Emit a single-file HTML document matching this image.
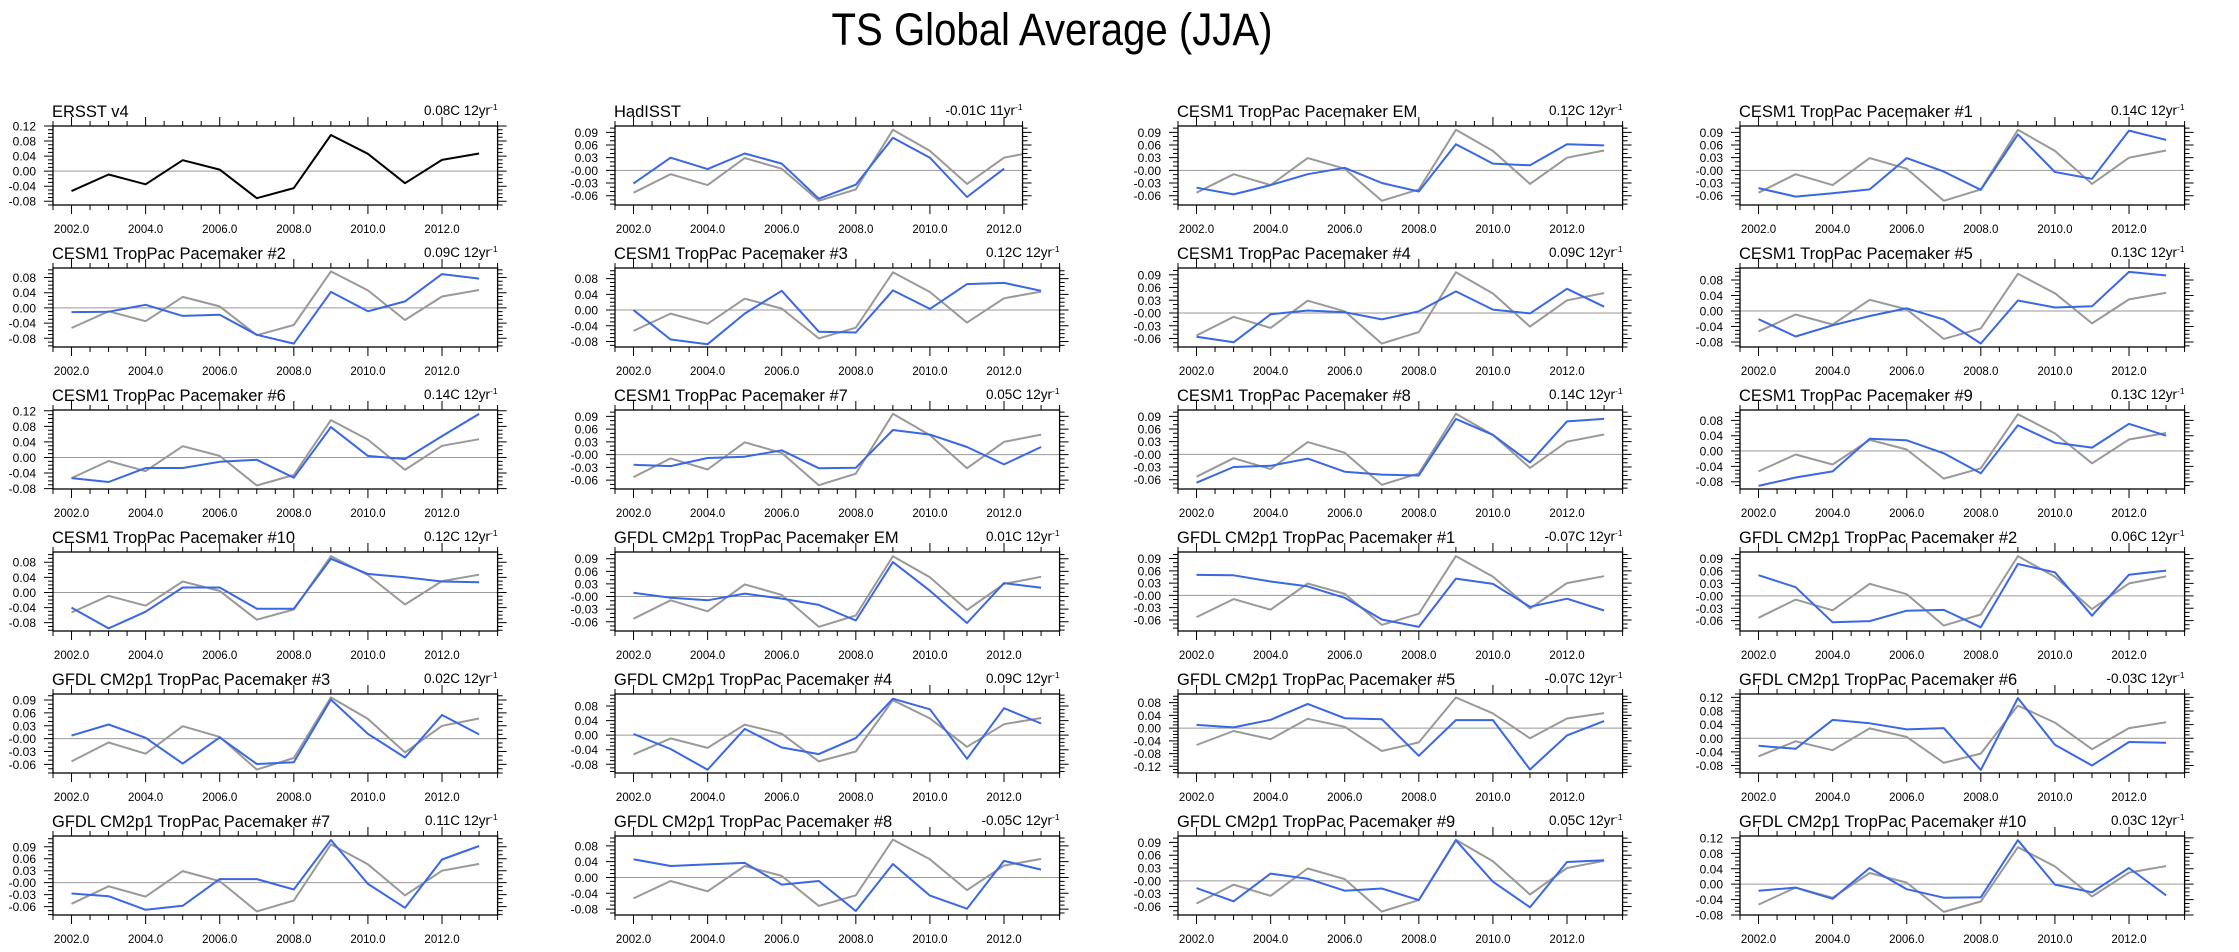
<!DOCTYPE html>
<html><head><meta charset="utf-8"><title>TS Global Average (JJA)</title>
<style>
html,body{margin:0;padding:0;background:#fff;}
svg{display:block;font-family:"Liberation Sans",Arial,sans-serif;}
</style></head>
<body>
<svg id="chart" width="2239" height="952" viewBox="0 0 2239 952" xmlns="http://www.w3.org/2000/svg">
<rect x="0" y="0" width="2239" height="952" fill="#fff"/>
<text x="1052" y="45" text-anchor="middle" font-size="45" textLength="441" lengthAdjust="spacingAndGlyphs" fill="#000">TS Global Average (JJA)</text>
</svg>
<script>
const years = [2002,2003,2004,2005,2006,2007,2008,2009,2010,2011,2012,2013];
const ersst = [-0.053,-0.009,-0.035,0.029,0.004,-0.072,-0.045,0.096,0.046,-0.032,0.030,0.047];
const titles = ["ERSST v4","HadISST","CESM1 TropPac Pacemaker EM","CESM1 TropPac Pacemaker #1",
"CESM1 TropPac Pacemaker #2","CESM1 TropPac Pacemaker #3","CESM1 TropPac Pacemaker #4","CESM1 TropPac Pacemaker #5",
"CESM1 TropPac Pacemaker #6","CESM1 TropPac Pacemaker #7","CESM1 TropPac Pacemaker #8","CESM1 TropPac Pacemaker #9",
"CESM1 TropPac Pacemaker #10","GFDL CM2p1 TropPac Pacemaker EM","GFDL CM2p1 TropPac Pacemaker #1","GFDL CM2p1 TropPac Pacemaker #2",
"GFDL CM2p1 TropPac Pacemaker #3","GFDL CM2p1 TropPac Pacemaker #4","GFDL CM2p1 TropPac Pacemaker #5","GFDL CM2p1 TropPac Pacemaker #6",
"GFDL CM2p1 TropPac Pacemaker #7","GFDL CM2p1 TropPac Pacemaker #8","GFDL CM2p1 TropPac Pacemaker #9","GFDL CM2p1 TropPac Pacemaker #10"];
const trends = ["0.08C","-0.01C","0.12C","0.14C","0.09C","0.12C","0.09C","0.13C","0.14C","0.05C","0.14C","0.13C",
"0.12C","0.01C","-0.07C","0.06C","0.02C","0.09C","-0.07C","-0.03C","0.11C","-0.05C","0.05C","0.03C"];
const trendYears = [12,11,12,12,12,12,12,12,12,12,12,12,12,12,12,12,12,12,12,12,12,12,12,12];
const yMins = [-0.09,-0.082,-0.082,-0.082,-0.103,-0.094,-0.08,-0.093,-0.081,-0.081,-0.082,-0.099,
-0.102,-0.082,-0.087,-0.085,-0.08,-0.104,-0.141,-0.102,-0.081,-0.095,-0.08,-0.08];
const yMaxs = [0.12,0.105,0.105,0.105,0.105,0.107,0.106,0.111,0.122,0.105,0.105,0.107,
0.107,0.106,0.106,0.106,0.104,0.113,0.107,0.13,0.117,0.105,0.105,0.125];
const yTickSteps = [0.04,0.03,0.03,0.03,0.04,0.04,0.03,0.04,0.04,0.03,0.03,0.04,
0.04,0.03,0.03,0.03,0.03,0.04,0.04,0.04,0.03,0.04,0.03,0.04];
const seriesHad = [-0.031,0.030,0.003,0.040,0.016,-0.067,-0.034,0.077,0.030,-0.063,0.004];
const seriesCesmEM = [-0.041,-0.057,-0.035,-0.009,0.006,-0.030,-0.050,0.062,0.016,0.012,0.062,0.059];
const seriesCesm1 = [-0.042,-0.062,-0.054,-0.045,0.029,-0.003,-0.046,0.085,-0.004,-0.020,0.094,0.072];
const seriesCesm2 = [-0.011,-0.010,0.008,-0.021,-0.018,-0.071,-0.094,0.042,-0.009,0.017,0.089,0.077];
const seriesCesm3 = [0.000,-0.075,-0.087,-0.009,0.049,-0.055,-0.057,0.050,0.003,0.066,0.069,0.049];
const seriesCesm4 = [-0.056,-0.069,-0.003,0.006,0.002,-0.015,0.004,0.051,0.008,-0.001,0.057,0.015];
const seriesCesm5 = [-0.021,-0.066,-0.037,-0.013,0.007,-0.022,-0.084,0.027,0.009,0.012,0.101,0.092];
const seriesCesm6 = [-0.053,-0.063,-0.027,-0.027,-0.011,-0.006,-0.052,0.078,0.004,-0.004,0.055,0.112];
const seriesCesm7 = [-0.024,-0.027,-0.008,-0.005,0.010,-0.032,-0.031,0.058,0.047,0.018,-0.023,0.018];
const seriesCesm8 = [-0.067,-0.030,-0.027,-0.010,-0.041,-0.048,-0.050,0.084,0.046,-0.019,0.078,0.084];
const seriesCesm9 = [-0.091,-0.069,-0.053,0.032,0.028,-0.006,-0.058,0.067,0.022,0.009,0.071,0.040];
const seriesCesm10 = [-0.040,-0.095,-0.051,0.013,0.013,-0.043,-0.043,0.089,0.049,0.040,0.029,0.027];
const seriesGfdlEM = [0.009,-0.003,-0.009,0.007,-0.005,-0.020,-0.057,0.082,0.014,-0.063,0.032,0.021];
const seriesGfdl1 = [0.050,0.049,0.034,0.022,-0.006,-0.059,-0.077,0.041,0.028,-0.028,-0.008,-0.037];
const seriesGfdl2 = [0.050,0.021,-0.064,-0.061,-0.036,-0.034,-0.076,0.077,0.057,-0.048,0.051,0.061];
const seriesGfdl3 = [0.007,0.033,0.002,-0.058,0.003,-0.059,-0.055,0.091,0.011,-0.044,0.055,0.010];
const seriesGfdl4 = [0.003,-0.038,-0.095,0.017,-0.034,-0.052,-0.008,0.100,0.071,-0.065,0.074,0.032];
const seriesGfdl5 = [0.010,0.002,0.026,0.076,0.031,0.028,-0.087,0.025,0.025,-0.130,-0.023,0.022];
const seriesGfdl6 = [-0.022,-0.031,0.054,0.044,0.026,0.030,-0.093,0.118,-0.019,-0.080,-0.011,-0.013];
const seriesGfdl7 = [-0.027,-0.034,-0.068,-0.058,0.009,0.009,-0.017,0.107,-0.003,-0.063,0.058,0.092];
const seriesGfdl8 = [0.046,0.029,0.033,0.037,-0.018,-0.009,-0.085,0.034,-0.046,-0.079,0.042,0.020];
const seriesGfdl9 = [-0.017,-0.048,0.017,0.005,-0.023,-0.018,-0.045,0.095,-0.002,-0.062,0.044,0.048];
const seriesGfdl10 = [-0.017,-0.009,-0.038,0.042,-0.013,-0.035,-0.034,0.114,-0.001,-0.021,0.042,-0.029];
const blueSeries = [null,seriesHad,seriesCesmEM,seriesCesm1,seriesCesm2,seriesCesm3,seriesCesm4,seriesCesm5,
seriesCesm6,seriesCesm7,seriesCesm8,seriesCesm9,seriesCesm10,seriesGfdlEM,seriesGfdl1,seriesGfdl2,
seriesGfdl3,seriesGfdl4,seriesGfdl5,seriesGfdl6,seriesGfdl7,seriesGfdl8,seriesGfdl9,seriesGfdl10];
const xTickLabels = ["2002.0","2004.0","2006.0","2008.0","2010.0","2012.0"];

const NS = "http://www.w3.org/2000/svg";
const svg = document.getElementById("chart");
const colLeft = [53, 615, 1178, 1740];
const rowTop = [126, 268, 410, 552, 694, 836];
const PPY = 37.05, BOX_H = 79;

function mk(tag, attrs, parent) {
  const e = document.createElementNS(NS, tag);
  for (const k in attrs) e.setAttribute(k, attrs[k]);
  parent.appendChild(e);
  return e;
}

titles.forEach((title, i) => {
  const col = i % 4, row = Math.floor(i / 4);
  const nYears = trendYears[i];
  const x0 = colLeft[col], y0 = rowTop[row];
  const xMin = 2001.5, xMax = 2001.5 + nYears;
  const W = nYears * PPY, H = BOX_H;
  const ymin = yMins[i], ymax = yMaxs[i];
  const sx = v => x0 + (v - xMin) / (xMax - xMin) * W;
  const sy = v => y0 + (ymax - v) / (ymax - ymin) * H;

  const g = mk("g", {}, svg);
  
  

  const t = mk("text", {x: x0 - 1, y: y0 - 9, "font-size": 16.5, fill: "#000"}, g);
  
  
  t.textContent = title;

  const tr = mk("text", {x: x0 + W, y: y0 - 11, "font-size": 13.5, "text-anchor": "end", fill: "#000"}, g);
  
  
  tr.textContent = trends[i] + " " + nYears + "yr";
  const sup = mk("tspan", {"font-size": 8.5, dy: -5}, tr);
  sup.textContent = "-1";

  let ticks = "";
  for (let v = 2001.5; v <= xMax + 1e-6; v += 0.5) {
    const x = sx(v);
    const major = Math.abs(v - Math.round(v)) < 1e-6 && Math.round(v) % 2 === 0 && v >= 2002 && v <= 2012;
    const L = major ? 9 : 5;
    ticks += `M${x},${y0 + H}v${L}M${x},${y0}v${-L}`;
  }
  for (let k = Math.ceil(ymin / 0.01 - 1e-6); k * 0.01 <= ymax + 1e-9; k++) {
    const v = k * 0.01, y = sy(v);
    const st = Math.round(yTickSteps[i] * 100);
    const major = k % st === 0;
    const L = major ? 9 : 5;
    ticks += `M${x0},${y}h${-L}M${x0 + W},${y}h${L}`;
  }
  const tp = mk("path", {d: ticks, stroke: "#000", "stroke-width": 1, fill: "none"}, g);
  
  

  xTickLabels.forEach(lab => {
    const v = parseFloat(lab);
    if (v > xMax) return;
    const tl = mk("text", {x: sx(v), y: y0 + H + 28, "font-size": 11.5, "text-anchor": "middle", fill: "#000"}, g);
    
    
    tl.textContent = lab;
  });
  const step = yTickSteps[i];
  for (let k = Math.ceil(ymin / step - 1e-6); k * step <= ymax + 1e-9; k++) {
    const v = k * step;
    let lab = v.toFixed(2);
    if (k === 0) lab = (step === 0.03) ? "-0.00" : "0.00";
    const yl = mk("text", {x: x0 - 17, y: sy(v) + 4.5, "font-size": 12, "text-anchor": "end", fill: "#000"}, g);
    
    
    yl.textContent = lab;
  }

  const zl = mk("line", {x1: x0, x2: x0 + W, y1: sy(0), y2: sy(0), stroke: "#999", "stroke-width": 1}, g);
  
  

  const clipId = "clip" + i;
  const cp = mk("clipPath", {id: clipId}, g);
  mk("rect", {x: x0, y: y0, width: W, height: H}, cp);

  const pts = arr => arr.map((v, j) => `${sx(years[j]).toFixed(1)},${sy(v).toFixed(1)}`).join(" ");
  const isObs = (i === 0);
  const gl = mk("polyline", {points: pts(ersst), fill: "none", stroke: isObs ? "#000" : "#999",
    "stroke-width": 2, "stroke-linejoin": "round", "clip-path": `url(#${clipId})`}, g);
  
  

  if (blueSeries[i]) {
    const bl = mk("polyline", {points: pts(blueSeries[i]), fill: "none", stroke: "#3b66e6",
      "stroke-width": 2, "stroke-linejoin": "round", "clip-path": `url(#${clipId})`}, g);
    
    
  }

  const box = mk("rect", {x: x0, y: y0, width: W, height: H, fill: "none", stroke: "#000", "stroke-width": 1.3}, g);
  
  
});
</script>
</body></html>
